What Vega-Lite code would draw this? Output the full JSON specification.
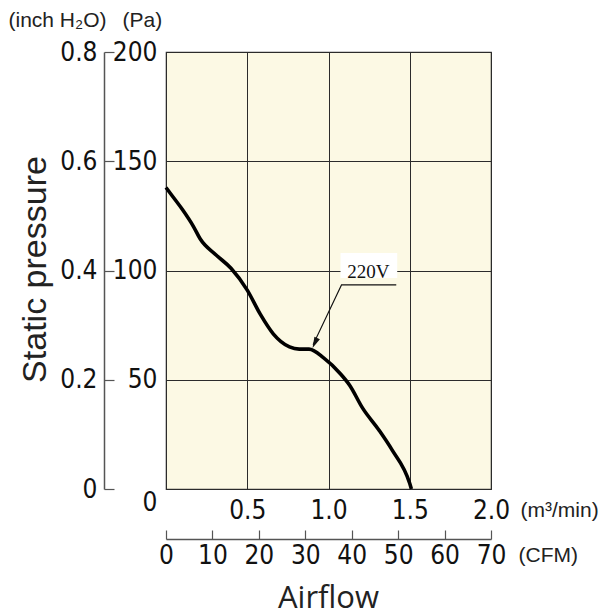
{
  "$schema": "https://vega.github.io/schema/vega-lite/v6.json",
  "width": 325,
  "height": 437,
  "autosize": {"type": "none"},
  "padding": {"left": 166, "top": 52, "right": 115, "bottom": 126},
  "background": "white",
  "config": {
    "view": {"fill": "#fcf9e4", "stroke": "#3a3a3a", "strokeWidth": 1.2},
    "axis": {
      "labelFont": "DejaVu Sans Condensed, Roboto, sans-serif",
      "labelFontSize": 26,
      "labelColor": "#111111",
      "titleFont": "Liberation Sans",
      "titleFontWeight": "normal",
      "titleColor": "#222222",
      "titleFontSize": 18
    }
  },
  "datasets": {
    "curve": [
      {"flow": 0, "pa": 138},
      {"flow": 0.04, "pa": 134},
      {"flow": 0.10, "pa": 128},
      {"flow": 0.17, "pa": 120},
      {"flow": 0.21, "pa": 114.5},
      {"flow": 0.31, "pa": 107},
      {"flow": 0.40, "pa": 101},
      {"flow": 0.50, "pa": 91},
      {"flow": 0.58, "pa": 80},
      {"flow": 0.66, "pa": 71},
      {"flow": 0.76, "pa": 65},
      {"flow": 0.82, "pa": 64},
      {"flow": 0.88, "pa": 64},
      {"flow": 0.97, "pa": 60},
      {"flow": 1.07, "pa": 53},
      {"flow": 1.13, "pa": 47.5},
      {"flow": 1.21, "pa": 37},
      {"flow": 1.31, "pa": 27},
      {"flow": 1.39, "pa": 18},
      {"flow": 1.50, "pa": 2.5},
      {"flow": 1.51, "pa": 0}
    ],
    "leader": [
      {"flow": 1.417, "pa": 93.4, "o": 0},
      {"flow": 1.08, "pa": 93.4, "o": 1},
      {"flow": 0.905, "pa": 66, "o": 2}
    ],
    "arrow": [{"flow": 0.916, "pa": 66.8}],
    "labelbox": [{"flow": 1.074, "flow2": 1.423, "pa": 96.6, "pa2": 108}],
    "label": [{"flow": 1.245, "pa": 99.5, "text": "220V"}],
    "secondary": [{"cfm": 0, "inch": 0}, {"cfm": 70, "inch": 0.8}],
    "titles": [{"a": 0, "b": 0}, {"a": 1, "b": 1}]
  },
  "layer": [
    {
      "encoding": {
        "x": {
          "field": "flow",
          "type": "quantitative",
          "scale": {"domain": [0, 2], "nice": false, "zero": false},
          "axis": {
            "orient": "bottom",
            "values": [0, 0.5, 1, 1.5, 2],
            "labelExpr": "datum.value == 0 ? '' : format(datum.value, '.1f')",
            "labelFlush": false,
            "labelPadding": 8,
            "ticks": false,
            "domain": false,
            "grid": true,
            "gridColor": "#2b2b2b",
            "gridWidth": 1,
            "gridOpacity": 1,
            "title": "(m³/min)",
            "titleX": 354,
            "titleY": 21,
            "titleAlign": "left",
            "titleBaseline": "middle",
            "titleFontSize": 21
          }
        },
        "y": {
          "field": "pa",
          "type": "quantitative",
          "scale": {"domain": [0, 200], "nice": false},
          "axis": {
            "orient": "left",
            "values": [0, 50, 100, 150, 200],
            "labelPadding": 9,
            "labelBaseline": {"condition": {"test": "datum.value === 0", "value": "top"}, "value": "middle"},
            "ticks": false,
            "domain": false,
            "grid": true,
            "gridColor": "#2b2b2b",
            "gridWidth": 1,
            "gridOpacity": 1,
            "title": "(Pa)",
            "titleX": -44,
            "titleY": -32,
            "titleAngle": 0,
            "titleAlign": "left",
            "titleBaseline": "middle",
            "titleFontSize": 21
          }
        }
      },
      "layer": [
        {
          "data": {"name": "labelbox"},
          "mark": {"type": "rect", "fill": "white", "stroke": null},
          "encoding": {"x2": {"field": "flow2"}, "y2": {"field": "pa2"}}
        },
        {
          "data": {"name": "curve"},
          "mark": {"type": "line", "color": "black", "strokeWidth": 3.6, "interpolate": "monotone"},
          "encoding": {}
        },
        {
          "data": {"name": "leader"},
          "mark": {"type": "line", "color": "#111111", "strokeWidth": 1.1},
          "encoding": {"order": {"field": "o", "type": "quantitative"}}
        },
        {
          "data": {"name": "arrow"},
          "mark": {"type": "point", "shape": "M0,-1L0.55,1L-0.55,1Z", "filled": true, "color": "#111111", "size": 121, "angle": 205, "opacity": 1},
          "encoding": {}
        },
        {
          "data": {"name": "label"},
          "mark": {"type": "text", "font": "Liberation Serif", "fontSize": 19, "color": "#111111", "align": "center", "baseline": "middle"},
          "encoding": {"text": {"field": "text"}}
        }
      ]
    },
    {
      "data": {"name": "secondary"},
      "mark": {"type": "point", "opacity": 0},
      "encoding": {
        "x": {
          "field": "cfm",
          "type": "quantitative",
          "scale": {"domain": [0, 70], "nice": false},
          "axis": {
            "orient": "bottom",
            "offset": 50,
            "values": [0, 10, 20, 30, 40, 50, 60, 70],
            "labelFlush": false,
            "labelPadding": 12,
            "ticks": true,
            "tickSize": -9,
            "tickColor": "#555555",
            "tickWidth": 1.2,
            "domain": true,
            "domainColor": "#555555",
            "domainWidth": 1.5,
            "grid": false,
            "title": "(CFM)",
            "titleX": 352,
            "titleY": 16,
            "titleAlign": "left",
            "titleBaseline": "middle",
            "titleFontSize": 21
          }
        },
        "y": {
          "field": "inch",
          "type": "quantitative",
          "scale": {"domain": [0, 0.8], "nice": false},
          "axis": {
            "orient": "left",
            "offset": 62,
            "values": [0, 0.2, 0.4, 0.6, 0.8],
            "labelExpr": "datum.value == 0 ? '0' : format(datum.value, '.1f')",
            "labelPadding": 17,
            "ticks": true,
            "tickSize": -10,
            "tickColor": "#555555",
            "tickWidth": 1.2,
            "domain": true,
            "domainColor": "#555555",
            "domainWidth": 1.5,
            "grid": false,
            "title": "(inch H₂O)",
            "titleX": -96,
            "titleY": -32,
            "titleAngle": 0,
            "titleAlign": "left",
            "titleBaseline": "middle",
            "titleFontSize": 21
          }
        }
      }
    },
    {
      "data": {"name": "titles"},
      "mark": {"type": "point", "opacity": 0},
      "encoding": {
        "x": {
          "field": "a",
          "type": "quantitative",
          "scale": {"domain": [0, 1]},
          "axis": {
            "orient": "bottom",
            "labels": false,
            "ticks": false,
            "domain": false,
            "grid": false,
            "title": "Airflow",
            "titleFont": "Open Sans",
            "titleFontSize": 31,
            "titleX": 162,
            "titleY": 118,
            "titleAlign": "center",
            "titleBaseline": "alphabetic"
          }
        },
        "y": {
          "field": "b",
          "type": "quantitative",
          "scale": {"domain": [0, 1]},
          "axis": {
            "orient": "left",
            "labels": false,
            "ticks": false,
            "domain": false,
            "grid": false,
            "title": "Static pressure",
            "titleFont": "Liberation Sans",
            "titleFontSize": 34,
            "titleX": -121,
            "titleY": 217,
            "titleAngle": -90,
            "titleAlign": "center",
            "titleBaseline": "alphabetic"
          }
        }
      }
    }
  ],
  "resolve": {
    "scale": {"x": "independent", "y": "independent"},
    "axis": {"x": "independent", "y": "independent"}
  }
}
